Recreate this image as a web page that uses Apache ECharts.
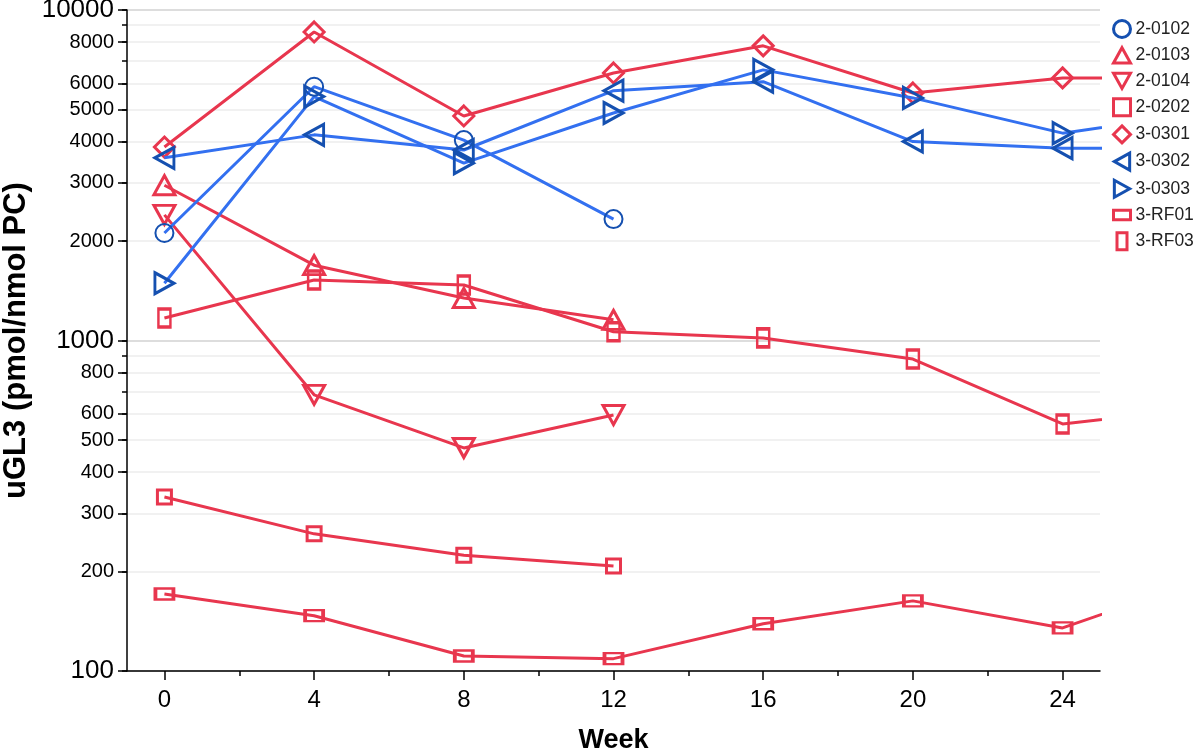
<!DOCTYPE html>
<html>
<head>
<meta charset="utf-8">
<script src="https://cdn.jsdelivr.net/npm/echarts@6/dist/echarts.min.js"></script>
<style>
html,body{margin:0;padding:0;background:#fff;}
#chart{width:1200px;height:751px;}
</style>
</head>
<body>
<div id="chart"></div>
<script>
// ---- data ----
const weeks = [0, 4, 8, 12, 16, 20, 24, 28];
const names = ['2-0102', '2-0103', '2-0104', '2-0202', '3-0301', '3-0302', '3-0303', '3-RF01', '3-RF03'];
const v2_0102 = [2115, 5860, 4040, 2330];
const v2_0103 = [2950, 1690, 1345, 1155];
const v2_0104 = [2400, 685, 473, 595];
const v2_0202 = [336, 260, 224, 208];
const v3_0301 = [3850, 8580, 4780, 6450, 7790, 5610, 6230, 6200];
const v3_0302 = [3570, 4190, 3770, 5700, 6070, 4000, 3820, 3800];
const v3_0303 = [1490, 5470, 3440, 4880, 6590, 5420, 4240, 4930];
const v3_RF01 = [171, 147, 111, 109, 139, 163, 135, 194];
const v3_RF03 = [1170, 1524, 1472, 1063, 1018, 879, 559, 629];
const xLabelValues = [0, 4, 8, 12, 16, 20, 24];
const xMinorTicks = [2, 6, 10, 14, 18, 22];
const yLabelValues = [100, 200, 300, 400, 500, 600, 800, 1000, 2000, 3000, 4000, 5000, 6000, 8000, 10000];
const yGridValues = [100, 200, 300, 400, 500, 600, 700, 800, 900, 1000, 2000, 3000, 4000, 5000, 6000, 7000, 8000, 9000, 10000];

// ---- styles ----
const RED = '#e8364e';
const BLUE_LINE = '#3370f0';
const BLUE_MARK = '#1550b0';
const SYM = {
  circle: 'circle',
  up: 'path://M5,0L10,9L0,9Z',
  down: 'path://M0,0L10,0L5,9Z',
  left: 'path://M9,0L0,5L9,10Z',
  right: 'path://M0,0L9,5L0,10Z',
  square: 'path://M0,0H10V10H0Z',
  diamond: 'diamond',
  wide: 'path://M0,0H18V10H0Z',
  tall: 'path://M0,0H10V17H0Z'
};
const spec = [
  { vals: v2_0102, sym: SYM.circle, size: 18, blue: true },
  { vals: v2_0103, sym: SYM.up, size: [21, 19], blue: false },
  { vals: v2_0104, sym: SYM.down, size: [21, 19], blue: false },
  { vals: v2_0202, sym: SYM.square, size: [14, 14], blue: false },
  { vals: v3_0301, sym: SYM.diamond, size: [20, 20], blue: false },
  { vals: v3_0302, sym: SYM.left, size: [19, 21], blue: true },
  { vals: v3_0303, sym: SYM.right, size: [19, 21], blue: true },
  { vals: v3_RF01, sym: SYM.wide, size: [18, 11], blue: false },
  { vals: v3_RF03, sym: SYM.tall, size: [12, 18], blue: false }
];

const series = spec.map((s, i) => ({
  name: names[i],
  type: 'line',
  xAxisIndex: 0,
  yAxisIndex: 0,
  data: s.vals.map((v, k) => [weeks[k], v]),
  symbol: s.sym,
  symbolSize: s.size,
  showAllSymbol: true,
  clip: true,
  lineStyle: { color: s.blue ? BLUE_LINE : RED, width: 3 },
  itemStyle: { color: 'rgba(255,255,255,0)', borderColor: s.blue ? BLUE_MARK : RED, borderWidth: s.sym === 'circle' ? 2 : 3 },
  emphasis: { disabled: true },
  z: s.blue ? 3 : 2
}));

const chart = echarts.init(document.getElementById('chart'), null, { renderer: 'canvas' });
chart.setOption({
  animation: false,
  backgroundColor: '#ffffff',
  textStyle: { fontFamily: 'Liberation Sans, Arial, sans-serif' },
  grid: { left: 127, right: 100, top: 10, bottom: 80, containLabel: false, outerBoundsMode: 'none' },
  legend: {
    orient: 'vertical',
    left: 1107,
    top: 14,
    itemWidth: 17,
    itemHeight: 17,
    itemGap: 7.2,
    symbolKeepAspect: true,
    textStyle: { fontSize: 17.5, color: '#222' },
    itemStyle: { borderWidth: 3 },
    data: names.map((n, i) => ({ name: n, icon: spec[i].sym }))
  },
  xAxis: [
    {
      type: 'value',
      min: -1,
      max: 25,
      name: 'Week',
      nameLocation: 'middle',
      nameGap: 56,
      nameTextStyle: { fontSize: 27, fontWeight: 'bold', color: '#000' },
      axisLine: { show: true, onZero: false, lineStyle: { color: '#000', width: 1.5 } },
      axisTick: { show: true, length: 9, customValues: xLabelValues, lineStyle: { color: '#000', width: 1.5 } },
      axisLabel: { show: true, customValues: xLabelValues, fontSize: 24, color: '#000', margin: 17 },
      splitLine: { show: false }
    },
    {
      type: 'value',
      min: -1,
      max: 25,
      position: 'bottom',
      axisLine: { show: false, onZero: false },
      axisTick: { show: true, length: 5, customValues: xMinorTicks, lineStyle: { color: '#000', width: 1.5 } },
      axisLabel: { show: false },
      splitLine: { show: false }
    }
  ],
  yAxis: [
    {
      type: 'log',
      logBase: 10,
      min: 100,
      max: 10000,
      name: 'uGL3 (pmol/nmol PC)',
      nameLocation: 'middle',
      nameGap: 95,
      nameMoveOverlap: false,
      nameTextStyle: { fontSize: 31, fontWeight: 'bold', color: '#000' },
      axisLine: { show: true, onZero: false, lineStyle: { color: '#000', width: 1.5 } },
      axisTick: { show: true, length: 9, customValues: yLabelValues, lineStyle: { color: '#000', width: 1.5 } },
      axisLabel: {
        show: true,
        customValues: yLabelValues,
        margin: 13,
        color: '#000',
        fontSize: 20,
        formatter: function (v) {
          const big = (v === 100 || v === 1000 || v === 10000);
          return big ? '{b|' + v + '}' : '{s|' + v + '}';
        },
        rich: {
          b: { fontSize: 26, color: '#000' },
          s: { fontSize: 20, color: '#000' }
        }
      },
      splitLine: { show: false },
      z: 5
    },
    {
      type: 'log',
      logBase: 10,
      min: 100,
      max: 10000,
      position: 'left',
      axisLine: { show: false, onZero: false },
      axisTick: { show: true, length: 5, customValues: yGridValues, lineStyle: { color: '#000', width: 1.5 } },
      axisLabel: { show: false },
      splitLine: {
        show: true,
        lineStyle: { color: ['#d2d2d2', '#ececec', '#ececec', '#ececec', '#ececec', '#ececec', '#ececec', '#ececec', '#ececec'], width: 1.5 }
      },
      z: 0
    }
  ],
  series: series
});
</script>
</body>
</html>
